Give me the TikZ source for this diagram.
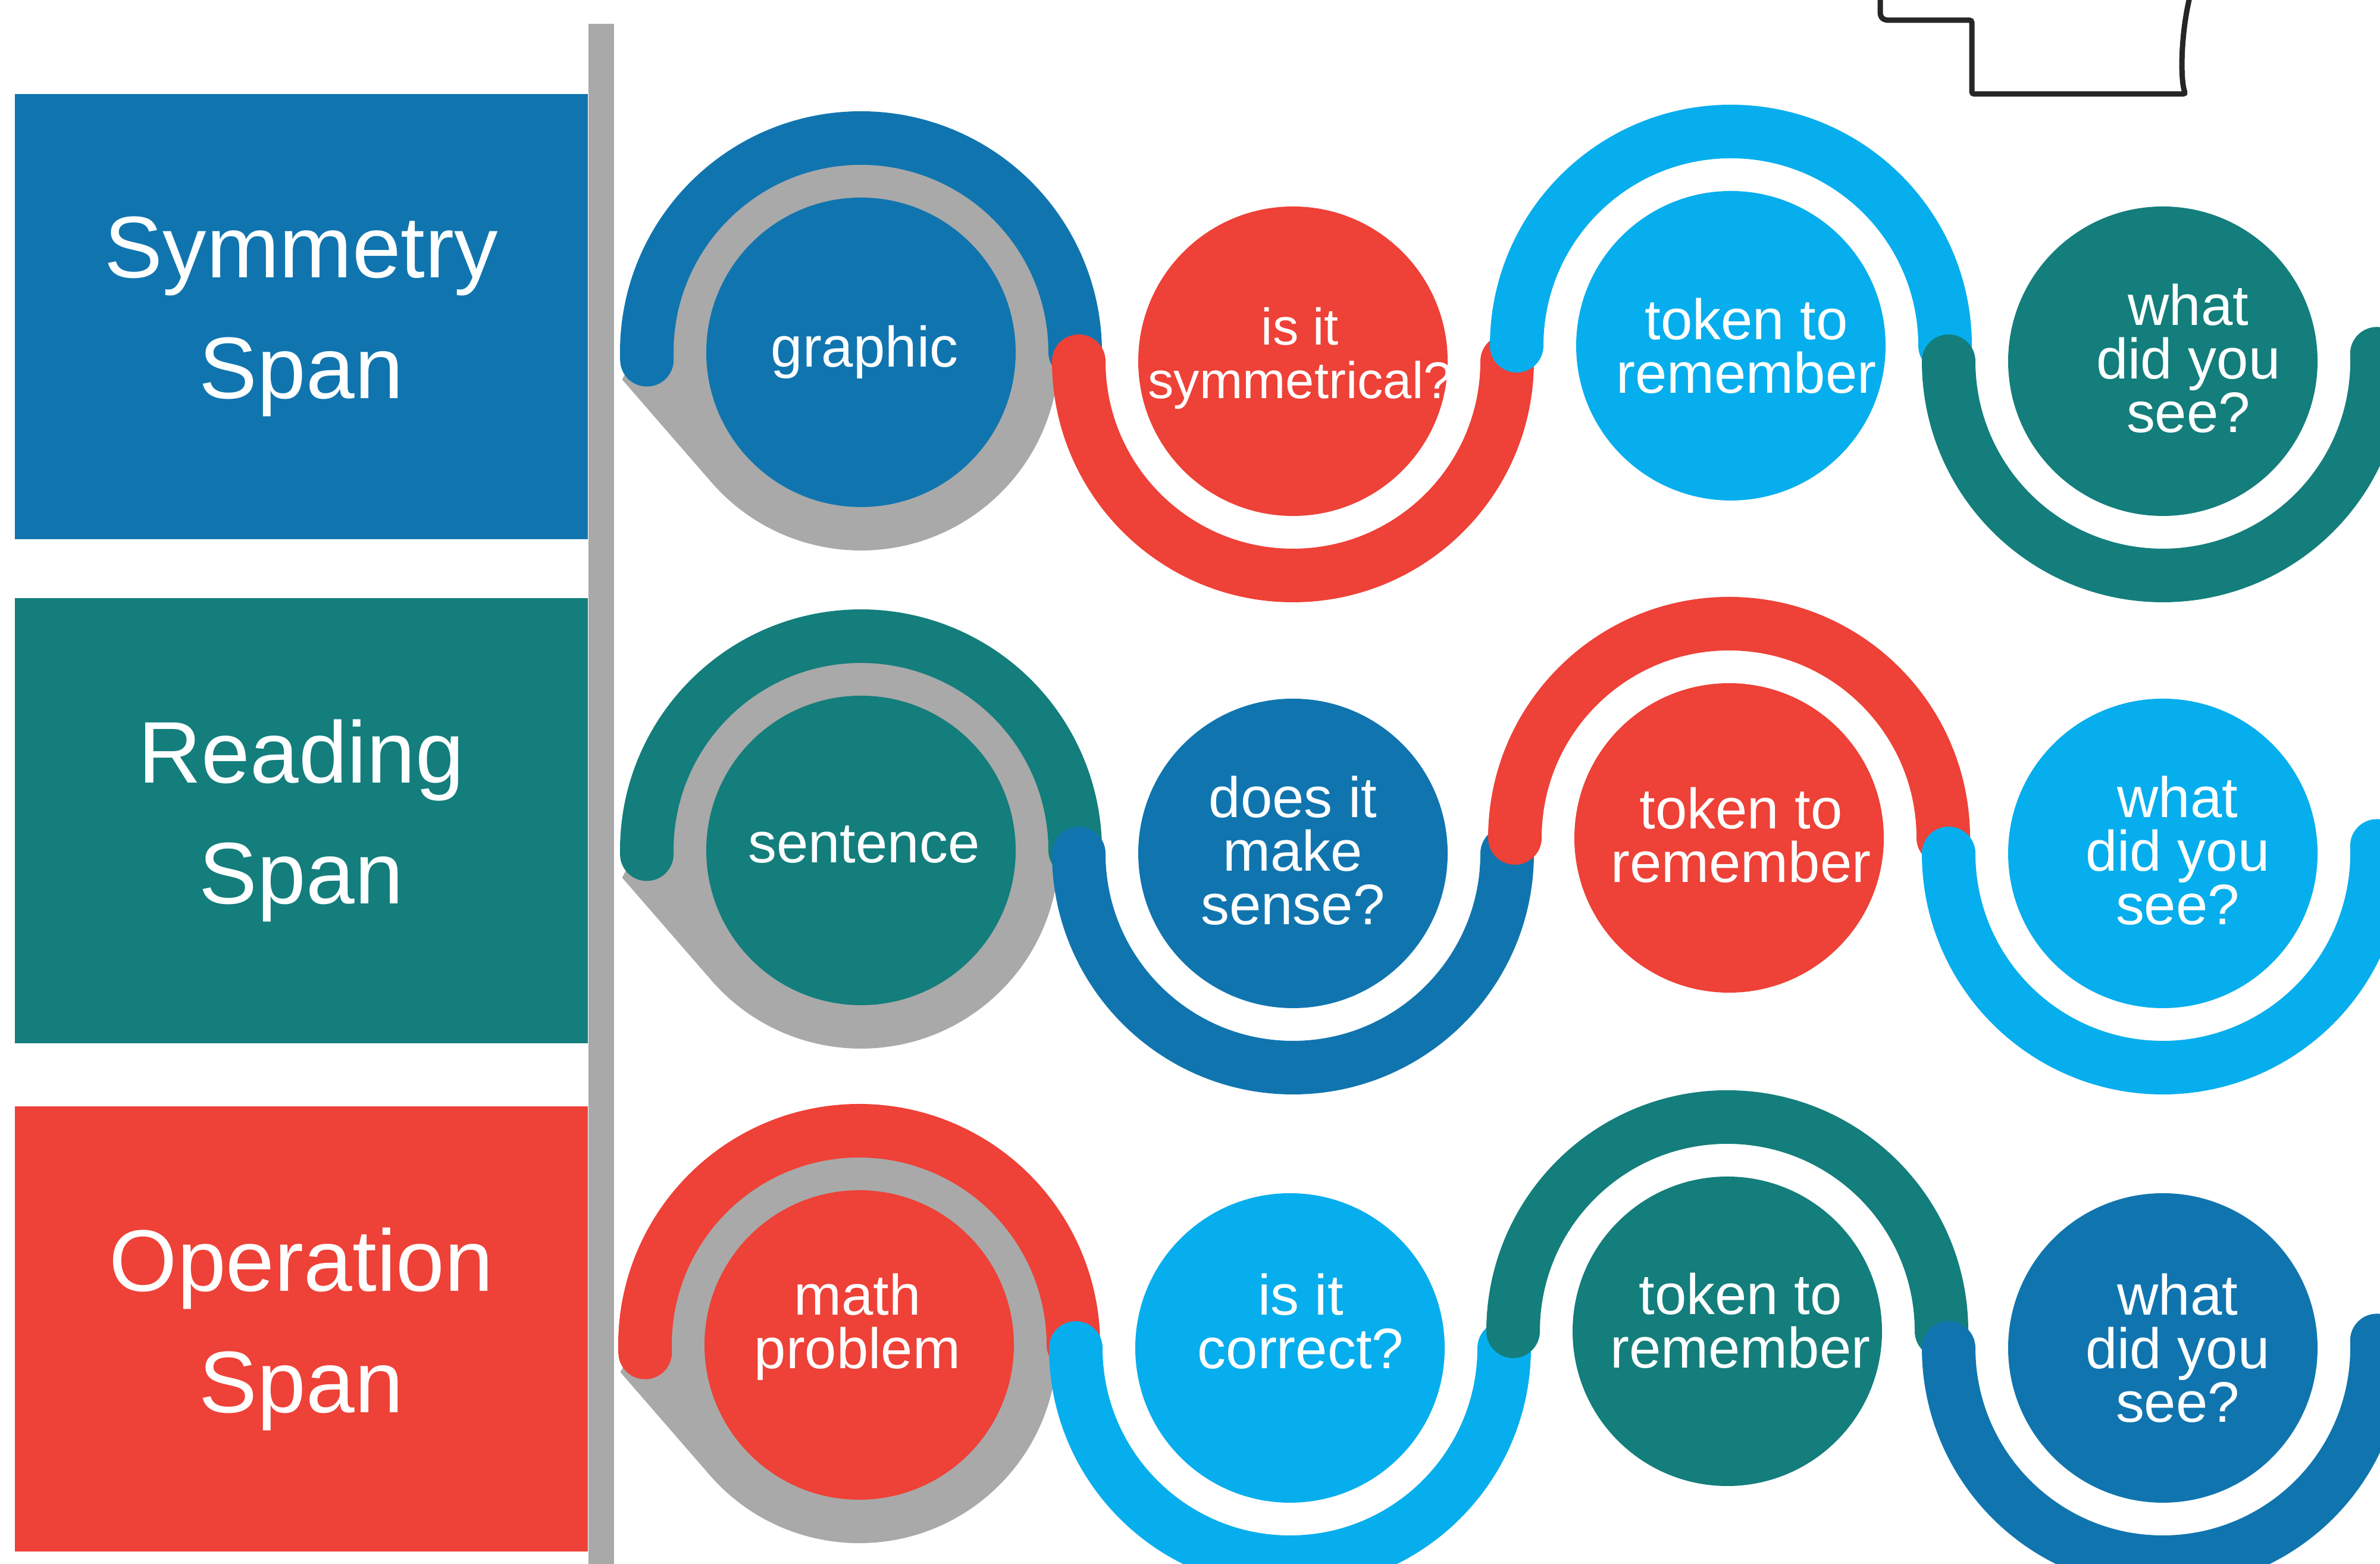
\documentclass[tikz,border=0pt]{standalone}
\usepackage{fontspec}
\setmainfont{Liberation Sans}
\usetikzlibrary{backgrounds}

\definecolor{spanblue}{RGB}{16,117,175}
\definecolor{spanteal}{RGB}{19,126,124}
\definecolor{spanred}{RGB}{238,65,55}
\definecolor{spansky}{RGB}{7,174,237}
\definecolor{spangray}{RGB}{169,169,169}

\begin{document}
\begin{tikzpicture}[
        box/.style  = {rectangle, minimum width=9.63cm, minimum height=7.48cm, inner sep=0pt,
                       text=white, align=center, font=\fontsize{41.8}{58}\selectfont},
        disc/.style = {circle, minimum size=5.2cm, inner sep=0pt},
        word/.style = {text=white, align=center, inner sep=0pt, font=\fontsize{27.3}{25.6}\selectfont},
        band/.style = {line width=0.9cm, line cap=round},
        tail/.style = {fill=spangray},
        outline/.style = {line width=0.09cm, draw=black!85, rounded corners=0.04cm}]
                   \useasboundingbox (0,0) rectangle (40,26.28);

                   % task names and the divider
                   \node[box, fill=spanblue] (symspan)  at (5.065,20.96) {Symmetry\\Span};
                   \node[box, fill=spanteal] (readspan) at (5.065,12.49) {Reading\\Span};
                   \node[box, fill=spanred]  (opspan)   at (5.065,3.945) {Operation\\Span};
                   \fill[spangray] (9.89,0) rectangle (10.32,25.88);

                   \draw[outline] (31.60,26.40) -- (31.60,26.12) .. controls (31.60,25.98) and (31.65,25.94) .. (31.79,25.94)
                         -- (33.14,25.94) -- (33.14,24.70) -- (36.73,24.70) .. controls (36.64,24.95) and (36.65,25.75) .. (36.82,26.40);

                   % symmetry span
                   \node[disc, fill=spanblue] (c11) at (14.47,20.36) {};
                   \node[disc, fill=spanred]  (c12) at (21.73,20.21) {};
                   \node[disc, fill=spansky]  (c13) at (29.09,20.47) {};
                   \node[disc, fill=spanteal] (c14) at (36.35,20.21) {};
                   \node[word] (t11) at ([shift={(0.06,0)}]c11) {graphic};
                   \node[word, font=\fontsize{24.7}{25.6}\selectfont] (t12) at ([shift={(0.12,0.05)}]c12) {is it\\symmetrical?};
                   \node[word] (t13) at ([shift={(0.26,0)}]c13) {token to\\remember};
                   \node[word] (t14) at ([shift={(0.43,0.05)}]c14) {what\\did you\\see?};

                   % reading span
                   \node[disc, fill=spanteal] (c21) at (14.47,11.99) {};
                   \node[disc, fill=spanblue] (c22) at (21.73,11.94) {};
                   \node[disc, fill=spanred]  (c23) at (29.06,12.20) {};
                   \node[disc, fill=spansky]  (c24) at (36.35,11.94) {};
                   \node[word] (t21) at ([shift={(0.05,0.1)}]c21) {sentence};
                   \node[word] (t22) at ([shift={(0,0.05)}]c22) {does it\\make\\sense?};
                   \node[word] (t23) at ([shift={(0.2,0.05)}]c23) {token to\\remember};
                   \node[word] (t24) at ([shift={(0.25,0.05)}]c24) {what\\did you\\see?};

                   % operation span
                   \node[disc, fill=spanred]  (c31) at (14.44,3.68) {};
                   \node[disc, fill=spansky]  (c32) at (21.68,3.63) {};
                   \node[disc, fill=spanteal] (c33) at (29.03,3.91) {};
                   \node[disc, fill=spanblue] (c34) at (36.35,3.63) {};
                   \node[word] (t31) at ([shift={(-0.03,0.3)}]c31) {math\\problem};
                   \node[word] (t32) at ([shift={(0.18,0.45)}]c32) {is it\\correct?};
                   \node[word] (t33) at ([shift={(0.22,0.18)}]c33) {token to\\remember};
                   \node[word] (t34) at ([shift={(0.25,0)}]c34) {what\\did you\\see?};

                   \begin{scope}[on background layer]
                   % grey start rings
                   \fill[tail, shift={(c11.center)}] (186.5:4.04) -- (221:3.33) arc[start angle=221, end angle=510, radius=3.33] -- cycle;
                   \fill[tail, shift={(c21.center)}] (186.5:4.04) -- (221:3.33) arc[start angle=221, end angle=510, radius=3.33] -- cycle;
                   \fill[tail, shift={(c31.center)}] (186.5:4.04) -- (221:3.33) arc[start angle=221, end angle=510, radius=3.33] -- cycle;

                   % the wave, one half turn per step
                   \draw[band, spanblue, shift={(c11.center)}] (182:3.6) arc[start angle=182, end angle=0, radius=3.6];
                   \draw[band, spanred,  shift={(c12.center)}] (180:3.6) arc[start angle=180, end angle=360, radius=3.6];
                   \draw[band, spansky,  shift={(c13.center)}] (180:3.6) arc[start angle=180, end angle=0, radius=3.6];
                   \draw[band, spanteal, shift={(c14.center)}] (180:3.6) arc[start angle=180, end angle=362, radius=3.6];

                   \draw[band, spanteal, shift={(c21.center)}] (181:3.6) arc[start angle=181, end angle=0, radius=3.6];
                   \draw[band, spanblue, shift={(c22.center)}] (180:3.6) arc[start angle=180, end angle=360, radius=3.6];
                   \draw[band, spanred,  shift={(c23.center)}] (180:3.6) arc[start angle=180, end angle=0, radius=3.6];
                   \draw[band, spansky,  shift={(c24.center)}] (180:3.6) arc[start angle=180, end angle=362, radius=3.6];

                   \draw[band, spanred,  shift={(c31.center)}] (182:3.6) arc[start angle=182, end angle=0, radius=3.6];
                   \draw[band, spansky,  shift={(c32.center)}] (180:3.6) arc[start angle=180, end angle=360, radius=3.6];
                   \draw[band, spanteal, shift={(c33.center)}] (180:3.6) arc[start angle=180, end angle=0, radius=3.6];
                   \draw[band, spanblue, shift={(c34.center)}] (180:3.6) arc[start angle=180, end angle=362, radius=3.6];
                   \end{scope}
        \end{tikzpicture}
\end{document}
